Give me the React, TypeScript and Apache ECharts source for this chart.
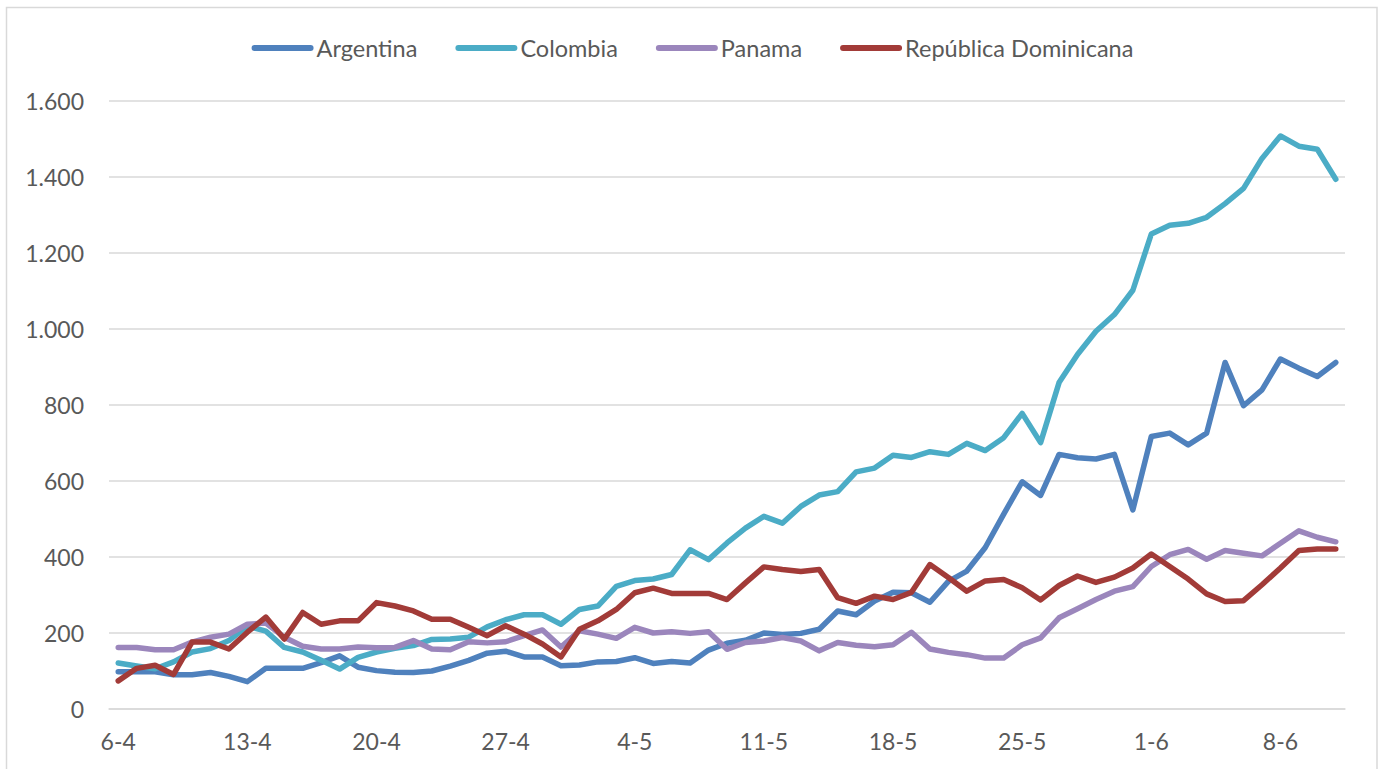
import React, { useEffect, useRef } from "react";
import * as echarts from "echarts";

const dates: string[] = [];
(() => {
  const months = [
    { m: 4, start: 6, end: 30 },
    { m: 5, start: 1, end: 31 },
    { m: 6, start: 1, end: 11 },
  ];
  for (const mm of months) for (let d = mm.start; d <= mm.end; d++) dates.push(`${d}-${mm.m}`);
})();

const seriesNames = ["Argentina", "Colombia", "Panama", "República Dominicana"];

const argentina = [
  98, 98, 98, 90, 90, 96, 86, 72, 107, 107, 107, 122, 140, 110, 101, 97, 96, 100, 113, 128,
  147, 152, 137, 137, 114, 116, 124, 125, 135, 120, 125, 121, 155, 173, 181, 200, 196, 199, 210, 258,
  248, 284, 307, 306, 281, 336, 363, 425, 513, 598, 562, 670, 661, 658, 670, 524, 717, 726, 695, 726,
  912, 798, 840, 921, 897, 875, 912,
];
const colombia = [
  121, 113, 106, 124, 150, 159, 180, 218, 205, 162, 150, 128, 105, 136, 150, 160, 167, 183, 184, 189,
  216, 235, 248, 248, 223, 262, 271, 323, 338, 342, 354, 419, 393, 437, 476, 507, 489, 533, 563, 572,
  624, 634, 668, 662, 677, 670, 699, 680, 714, 778, 701, 859, 933, 994, 1038, 1102, 1250, 1273, 1278, 1294,
  1330, 1370, 1449, 1508, 1481, 1473, 1394,
];
const panama = [
  162, 162, 156, 156, 176, 189, 197, 223, 226, 189, 165, 158, 158, 163, 161, 162, 180, 158, 156, 177,
  174, 177, 193, 208, 163, 206, 197, 186, 215, 200, 203, 199, 203, 157, 175, 179, 188, 179, 153, 175,
  168, 164, 169, 202, 158, 149, 143, 134, 134, 169, 187, 240, 264, 288, 310, 322, 375, 406, 420, 394,
  417, 410, 403, 436, 469, 452, 440,
];
const repDominicana = [
  74, 107, 115, 91, 176, 176, 158, 202, 242, 184, 254, 223, 232, 232, 280, 271, 258, 236, 236, 215,
  193, 219, 197, 171, 137, 210, 232, 262, 306, 318, 304, 304, 304, 288, 332, 374, 367, 362, 367, 293,
  278, 297, 288, 307, 380, 346, 310, 337, 341, 319, 287, 325, 350, 333, 347, 371, 408, 375, 342, 303,
  283, 285, 327, 371, 417, 421, 421,
];

const colors = ["#4F81BD", "#4BACC6", "#9B86BC", "#A23B38"];
const FONT = "Lato";
const TEXT_COLOR = "#595959";
const GRID_COLOR = "#D9D9D9";

export default function App() {
  const ref = useRef<HTMLDivElement>(null);
  useEffect(() => {
    document.body.style.margin = "0";
    if (!ref.current) return;
    const chart = echarts.init(ref.current, null, { renderer: "svg" });
    const values = [argentina, colombia, panama, repDominicana];
    chart.setOption({
      animation: false,
      backgroundColor: "#ffffff",
      color: colors,
      textStyle: { fontFamily: FONT },
      graphic: [
        {
          type: "rect",
          shape: { x: 6.5, y: 7.5, width: 1370.5, height: 800 },
          style: { fill: "none", stroke: GRID_COLOR, lineWidth: 1.5 },
          silent: true,
        },
      ],
      legend: {
        top: 31,
        left: "center",
        itemWidth: 62,
        itemHeight: 6,
        itemGap: 38,
        icon: "path://M3,0 L59,0 A3,3 0 0 1 59,6 L3,6 A3,3 0 0 1 3,0 Z",
        textStyle: { fontFamily: FONT, fontSize: 23.5, color: TEXT_COLOR, padding: [0, 0, 0, -2] },
        data: seriesNames,
      },
      grid: { left: 109, right: 40, top: 101, bottom: 60, containLabel: false },
      xAxis: {
        type: "category",
        data: dates,
        boundaryGap: true,
        axisTick: { show: false },
        axisLine: { show: true, lineStyle: { color: GRID_COLOR, width: 1.5 } },
        axisLabel: {
          interval: 6,
          fontFamily: FONT,
          fontSize: 23,
          color: TEXT_COLOR,
          margin: 20,
        },
        splitLine: { show: false },
      },
      yAxis: {
        type: "value",
        min: 0,
        max: 1600,
        interval: 200,
        axisLine: { show: false },
        axisTick: { show: false },
        axisLabel: {
          fontFamily: FONT,
          fontSize: 23,
          color: TEXT_COLOR,
          margin: 25,
          formatter: (v: number) => v.toLocaleString("de-DE"),
        },
        splitLine: { lineStyle: { color: GRID_COLOR, width: 1.5 } },
      },
      series: seriesNames.map((name, i) => ({
        name,
        type: "line",
        data: values[i],
        symbol: "none",
        lineStyle: { width: 5.5, cap: "round", join: "round", color: colors[i] },
        itemStyle: { color: colors[i] },
      })),
    });
    return () => chart.dispose();
  }, []);
  return <div ref={ref} style={{ width: 1385, height: 769 }} />;
}
